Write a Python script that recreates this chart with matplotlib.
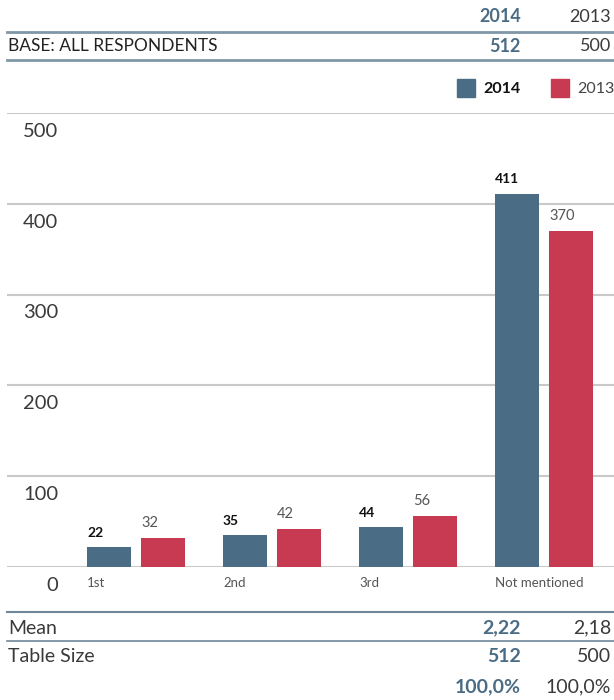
import matplotlib
matplotlib.use("Agg")
import matplotlib.pyplot as plt
import numpy as np

plt.rcParams['font.family'] = ['Lato', 'DejaVu Sans']

categories = ["1st", "2nd", "3rd", "Not mentioned"]
vals_2014 = [22, 35, 44, 411]
vals_2013 = [32, 42, 56, 370]
series_names = ["2014", "2013"]
yticks = [0, 100, 200, 300, 400, 500]
base = ["512", "500"]
mean = ["2,22", "2,18"]
table_size = ["512", "500"]
pct = ["100,0%", "100,0%"]

C14 = "#4b6c85"
C13 = "#c73a52"
LINE = "#7f97a8"
GRID = "#c9c9c9"
TXT = "#3a3a3a"
LW = "normal"

W, H = 614, 700
fig = plt.figure(figsize=(W / 100, H / 100), dpi=100)

def fx(px):
    return px / W

def fy(py):
    return 1 - py / H

ax = fig.add_axes([fx(7), fy(567), fx(614 - 7), (567 - 113) / H])
scale = 136.0
x0 = -(136 - 7) / scale
ax.set_xlim(x0, x0 + 607 / scale)
ax.set_ylim(0, 500)
for s in ax.spines.values():
    s.set_visible(False)
ax.set_xticks([])
ax.set_yticks([])
for t in yticks:
    ax.axhline(t, color=GRID, lw=1.5, zorder=0)

x = np.arange(len(categories))
bw = 44 / scale
off = 27 / scale
ax.bar(x - off, vals_2014, width=bw, color=C14, zorder=2)
ax.bar(x + off, vals_2013, width=bw, color=C13, zorder=2)

for i, (a, b) in enumerate(zip(vals_2014, vals_2013)):
    ax.annotate(str(a), (x[i] - off - bw / 2, a), xytext=(0, 6), textcoords="offset points",
                ha="left", va="bottom", fontsize=10, fontweight="bold", color="#111111")
    ax.annotate(str(b), (x[i] + off - bw / 2, b), xytext=(0, 6), textcoords="offset points",
                ha="left", va="bottom", fontsize=10.5, fontweight=LW, color="#555555")
    ax.annotate(categories[i], (x[i] - off - bw / 2, 0), xytext=(0, -7), textcoords="offset points",
                ha="left", va="top", fontsize=9.5, fontweight=LW, color="#555555")

for t in yticks:
    ax.annotate(str(t), (x0, t), xytext=(51 / 100 * 72, -7), textcoords="offset points",
                ha="right", va="top", fontsize=14.5, fontweight=LW, color=TXT)

fig.text(fx(521), fy(17), series_names[0], ha="right", va="center", fontsize=13,
         fontweight="bold", color=C14)
fig.text(fx(611), fy(17), series_names[1], ha="right", va="center", fontsize=13, fontweight=LW, color=TXT)
fig.add_artist(plt.Line2D([fx(7), fx(614)], [fy(32), fy(32)], color=LINE, lw=2))
fig.text(fx(8), fy(46), "BASE: ALL RESPONDENTS", ha="left", va="center", fontsize=12.5, color="#222222")
fig.text(fx(521), fy(46), base[0], ha="right", va="center", fontsize=13, fontweight="bold", color=C14)
fig.text(fx(611), fy(46), base[1], ha="right", va="center", fontsize=13, fontweight=LW, color=TXT)
fig.add_artist(plt.Line2D([fx(7), fx(614)], [fy(60), fy(60)], color=LINE, lw=2))

for px, name, col, bold in [(457, series_names[0], C14, True), (551, series_names[1], C13, False)]:
    fig.add_artist(plt.Rectangle((fx(px), fy(97)), fx(18), 18 / H, color=col))
    fig.text(fx(px + 26), fy(89), name, ha="left", va="center", fontsize=11.5,
             fontweight="bold" if bold else LW, color="#111111" if bold else "#444444")

fig.add_artist(plt.Line2D([fx(7), fx(614)], [fy(612), fy(612)], color="#6f879a", lw=1.5))
fig.text(fx(8), fy(628), "Mean", ha="left", va="center", fontsize=14, fontweight=LW, color=TXT)
fig.text(fx(521), fy(628), mean[0], ha="right", va="center", fontsize=14, fontweight="bold", color=C14)
fig.text(fx(611), fy(628), mean[1], ha="right", va="center", fontsize=14, fontweight=LW, color=TXT)
fig.add_artist(plt.Line2D([fx(7), fx(614)], [fy(641), fy(641)], color="#6f879a", lw=1.2))
fig.text(fx(8), fy(657), "Table Size", ha="left", va="center", fontsize=14, fontweight=LW, color=TXT)
fig.text(fx(521), fy(657), table_size[0], ha="right", va="center", fontsize=14, fontweight="bold", color=C14)
fig.text(fx(611), fy(657), table_size[1], ha="right", va="center", fontsize=14, fontweight=LW, color=TXT)
fig.text(fx(521), fy(687), pct[0], ha="right", va="center", fontsize=14, fontweight="bold", color=C14)
fig.text(fx(611), fy(687), pct[1], ha="right", va="center", fontsize=14, fontweight=LW, color=TXT)

fig.savefig("out.png", dpi=100)
